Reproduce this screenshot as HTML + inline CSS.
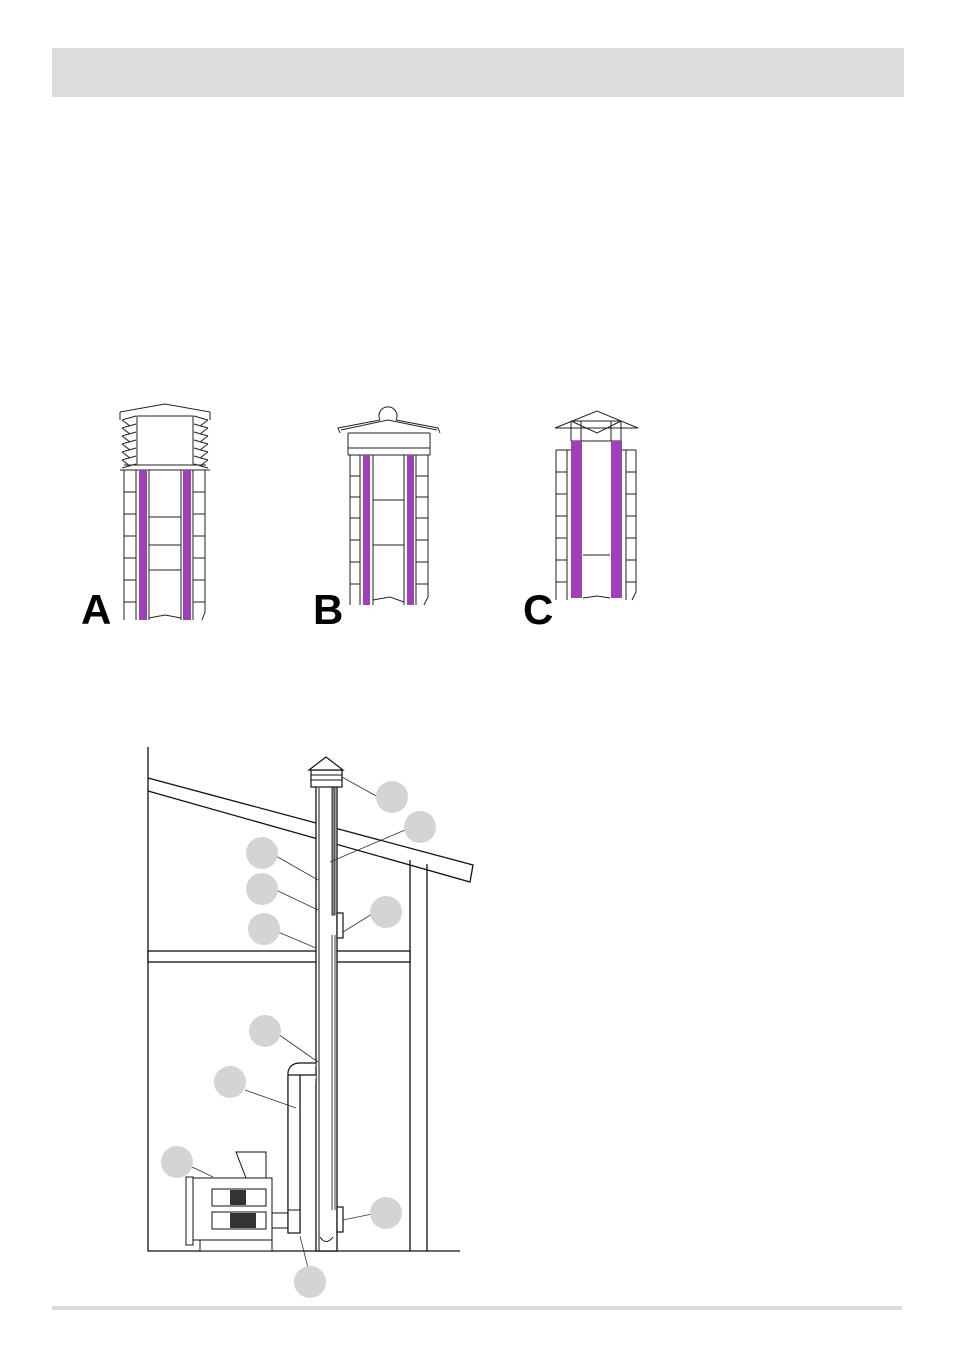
<!DOCTYPE html>
<html><head><meta charset="utf-8"><style>
html,body{margin:0;padding:0;background:#fff;}
svg{display:block;}
</style></head><body>
<svg width="954" height="1354" viewBox="0 0 954 1354" xmlns="http://www.w3.org/2000/svg">
<rect x="52" y="48" width="852" height="49" fill="#dcdcdc"/>
<rect x="52" y="1306" width="850" height="4" fill="#dcdcdc"/>

<g stroke="#222" stroke-width="1" fill="none">
<path d="M120 412 L165 404 L210 412 L210 420 M120 412 L120 420"/>
<rect x="137" y="416" width="56" height="49" fill="#fff"/>
<g>
<path d="M122 420 L136 416 M122 428 L136 424 M122 436 L136 432 M122 444 L136 440 M122 452 L136 448 M122 460 L136 456 M122 468 L136 464"/>
<path d="M122 420 L130 426 M122 428 L130 434 M122 436 L130 442 M122 444 L130 450 M122 452 L130 458 M122 460 L130 466"/>
<path d="M208 420 L194 416 M208 428 L194 424 M208 436 L194 432 M208 444 L194 440 M208 452 L194 448 M208 460 L194 456 M208 468 L194 464"/>
<path d="M208 420 L200 426 M208 428 L200 434 M208 436 L200 442 M208 444 L200 450 M208 452 L200 458 M208 460 L200 466"/>
</g>
<path d="M120 470 L210 470 M124 465 L206 465"/>
<path d="M124 470 L124 620 M136 470 L136 620 M149 470 L149 620 M181 470 L181 620 M193 470 L193 620 M205 470 L205 612 L202 620"/>
<path d="M124 492 L136 492 M124 514 L136 514 M124 536 L136 536 M124 558 L136 558 M124 580 L136 580 M124 602 L136 602"/>
<path d="M193 492 L205 492 M193 514 L205 514 M193 536 L205 536 M193 558 L205 558 M193 580 L205 580 M193 602 L205 602"/>
<path d="M149 517 L181 517 M149 545 L181 545 M149 570 L181 570 M149 618 L165 615 L181 618"/>
</g>
<rect x="139" y="470" width="8" height="150" fill="#a040b8"/>
<rect x="183" y="470" width="8" height="150" fill="#a040b8"/>

<g stroke="#222" stroke-width="1" fill="none">
<path d="M340 433 L338 428 L380 420 M396 420 L438 428 L440 433"/>
<path d="M380 420 A9 9 0 1 1 396 420"/>
<path d="M341 430 L388 420 L437 430"/>
<path d="M348 433 L430 433 M348 433 L348 455 M430 433 L430 455 M348 448 L430 448 M348 455 L430 455"/>
<path d="M350 455 L350 605 M360 455 L360 605 M373 455 L373 605 M404 455 L404 605 M416 455 L416 605 M428 455 L428 597 L424 605"/>
<path d="M350 476 L360 476 M350 497 L360 497 M350 518 L360 518 M350 540 L360 540 M350 562 L360 562 M350 584 L360 584"/>
<path d="M416 476 L428 476 M416 497 L428 497 M416 518 L428 518 M416 540 L428 540 M416 562 L428 562 M416 584 L428 584"/>
<path d="M373 500 L404 500 M373 545 L404 545 M373 600 L390 597 L404 602"/>
</g>
<rect x="363" y="455" width="7" height="150" fill="#a040b8"/>
<rect x="407" y="455" width="7" height="150" fill="#a040b8"/>

<g stroke="#222" stroke-width="1" fill="none">
<path d="M555 428 L597 411 L638 428 Z"/>
<path d="M571 421 L597 433 L621 421 M571 421 L621 421"/>
<path d="M571 421 L571 441 M581 421 L581 441 M611 421 L611 441 M621 421 L621 441 M571 441 L621 441"/>
<path d="M556 450 L571 450 M622 450 L636 450 M556 450 L556 600 M567 450 L567 600 M626 450 L626 600 M636 450 L636 592 L632 600"/>
<path d="M556 472 L567 472 M556 494 L567 494 M556 516 L567 516 M556 538 L567 538 M556 560 L567 560 M556 582 L567 582"/>
<path d="M626 472 L636 472 M626 494 L636 494 M626 516 L636 516 M626 538 L636 538 M626 560 L636 560 M626 582 L636 582"/>
<path d="M583 555 L610 555 M583 598 L597 596 L610 598"/>
</g>
<rect x="571" y="441" width="11" height="157" fill="#a040b8"/>
<rect x="611" y="441" width="11" height="157" fill="#a040b8"/>

<g font-family="Liberation Sans, sans-serif" font-size="42" font-weight="bold" fill="#000">
<text x="81" y="624">A</text>
<text x="313" y="624">B</text>
<text x="523" y="624">C</text>
</g>

<g stroke="#111" stroke-width="1.3" fill="none">
<path d="M148 747 L148 1251 L460 1251"/>
<path d="M148 778 L473 865 L470 882 L148 791"/>
<path d="M410 860 L410 1251 M427 864 L427 1251"/>
</g>
<rect x="148" y="951" width="262" height="11" fill="#fff" stroke="#111" stroke-width="1.3"/>
<rect x="316" y="785" width="21" height="466" fill="#fff" stroke="#111" stroke-width="1.3"/>
<path d="M319 788 L319 1251" stroke="#111" stroke-width="1"/>
<rect x="332" y="787" width="3" height="128" fill="#888" stroke="#111" stroke-width="0.8"/>
<path d="M332 935 L332 1210 M335 935 L335 1210" stroke="#111" stroke-width="0.8"/>
<rect x="337" y="913" width="6" height="25" fill="#fff" stroke="#111" stroke-width="1.2"/>
<rect x="337" y="1207" width="6" height="25" fill="#fff" stroke="#111" stroke-width="1.2"/>
<path d="M320 1237 Q326 1246 333 1237" stroke="#111" fill="none"/>
<rect x="311" y="770" width="31" height="17" fill="#fff" stroke="#111" stroke-width="1.2"/>
<path d="M311 775 L342 775 M311 780 L342 780" stroke="#111"/>
<path d="M309 770 L326 757 L343 770 Z" fill="#fff" stroke="#111" stroke-width="1.2"/>
<path d="M288 1233 L288 1072 Q290 1063 300 1063 L316 1063 M300 1233 L300 1075 L316 1075" stroke="#111" stroke-width="1.2" fill="#fff"/>
<rect x="288" y="1075" width="12" height="158" fill="#fff" stroke="#111" stroke-width="1.2"/>
<path d="M288 1210 L300 1210 M272 1213 L288 1213 M272 1228 L288 1228" stroke="#111"/>
<g stroke="#111" stroke-width="1" fill="#fff">
<path d="M236 1152 L266 1152 L266 1178 L246 1178 Z"/>
<rect x="193" y="1178" width="79" height="62"/>
<rect x="200" y="1240" width="72" height="11"/>
<rect x="186" y="1177" width="7" height="68"/>
<rect x="212" y="1189" width="54" height="17"/>
<rect x="212" y="1212" width="54" height="17"/>
</g>
<rect x="230" y="1190" width="16" height="15" fill="#333"/>
<rect x="230" y="1213" width="26" height="15" fill="#333"/>
<g stroke="#333" stroke-width="0.8">
<path d="M342 777 L378 797 M330 862 L405 830 M318 880 L276 856 M318 910 L276 890 M316 948 L278 932 M318 1062 L278 1034 M296 1108 L245 1090 M213 1177 L190 1166 M343 932 L372 914 M343 1220 L372 1214 M300 1236 L308 1268"/>
</g>
<g fill="#d4d4d4">
<circle cx="392" cy="797" r="16"/>
<circle cx="420" cy="827" r="16"/>
<circle cx="262" cy="853" r="16"/>
<circle cx="262" cy="889" r="16"/>
<circle cx="264" cy="929" r="16"/>
<circle cx="265" cy="1031" r="16"/>
<circle cx="230" cy="1082" r="16"/>
<circle cx="177" cy="1162" r="16"/>
<circle cx="386" cy="912" r="16"/>
<circle cx="386" cy="1213" r="16"/>
<circle cx="310" cy="1282" r="16"/>
</g>
</svg>
</body></html>
